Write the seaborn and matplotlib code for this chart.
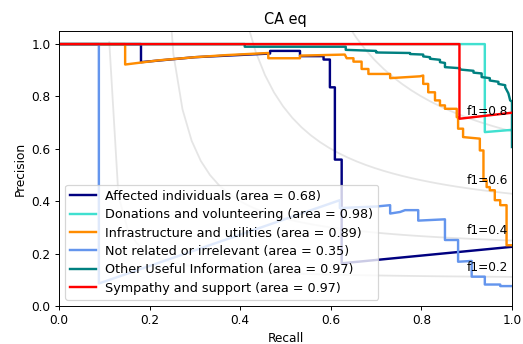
import numpy as np
import pandas as pd
import matplotlib
matplotlib.use("Agg")
import matplotlib.pyplot as plt
import seaborn as sns

# ---------------- data ----------------
title = "CA eq"
class_names = ["Affected individuals", "Donations and volunteering",
               "Infrastructure and utilities", "Not related or irrelevant",
               "Other Useful Information", "Sympathy and support"]
areas = [0.68, 0.98, 0.89, 0.35, 0.97, 0.97]
colors = ["navy", "turquoise", "darkorange", "cornflowerblue", "teal", "red"]

affected_recall = [0.0, 0.181, 0.181, 0.30, 0.466, 0.466, 0.532, 0.532, 0.584, 0.584,
                   0.598, 0.598, 0.609, 0.609, 0.624, 0.624, 1.0]
affected_precision = [1.0, 1.0, 0.931, 0.950, 0.964, 0.974, 0.974, 0.954, 0.954, 0.941,
                      0.941, 0.835, 0.835, 0.559, 0.559, 0.163, 0.226]

donations_recall = [0.0, 0.940, 0.940, 0.996, 1.0]
donations_precision = [1.0, 1.0, 0.664, 0.672, 0.672]

infra_recall = [0.0, 0.146, 0.146, 0.22, 0.30, 0.37, 0.462, 0.462, 0.532, 0.532,
                0.631, 0.635, 0.650, 0.650, 0.668, 0.668, 0.683, 0.683, 0.731, 0.731,
                0.797, 0.804, 0.804, 0.815, 0.815, 0.830, 0.830, 0.841, 0.841, 0.852,
                0.852, 0.878, 0.878, 0.881, 0.881, 0.892, 0.892, 0.929, 0.929, 0.937,
                0.937, 0.944, 0.944, 0.951, 0.951, 0.962, 0.962, 0.974, 0.974, 0.988,
                0.988, 1.0]
infra_precision = [1.0, 1.0, 0.922, 0.938, 0.950, 0.958, 0.966, 0.946, 0.946, 0.956,
                   0.960, 0.946, 0.946, 0.933, 0.933, 0.905, 0.905, 0.886, 0.886, 0.870,
                   0.877, 0.880, 0.848, 0.848, 0.816, 0.816, 0.785, 0.785, 0.766, 0.766,
                   0.753, 0.753, 0.721, 0.721, 0.677, 0.677, 0.645, 0.639, 0.594, 0.594,
                   0.480, 0.480, 0.454, 0.454, 0.442, 0.442, 0.404, 0.404, 0.385, 0.385,
                   0.232, 0.232]

notrel_recall = [0.0, 0.088, 0.088, 0.620, 0.620, 0.701, 0.731, 0.731, 0.753, 0.764,
                 0.793, 0.793, 0.852, 0.852, 0.881, 0.881, 0.911, 0.911, 0.940, 0.940,
                 0.974, 0.974, 1.0]
notrel_precision = [1.0, 1.0, 0.086, 0.404, 0.374, 0.380, 0.385, 0.353, 0.359, 0.366,
                    0.366, 0.326, 0.331, 0.252, 0.252, 0.169, 0.172, 0.112, 0.112, 0.082,
                    0.082, 0.076, 0.076]

other_recall = [0.0, 0.41, 0.41, 0.633, 0.633, 0.70, 0.70, 0.775, 0.775, 0.804, 0.804,
                0.819, 0.819, 0.841, 0.841, 0.852, 0.852, 0.885, 0.885, 0.915, 0.915,
                0.933, 0.933, 0.951, 0.951, 0.970, 0.970, 0.985, 0.985, 0.992, 0.996,
                1.0, 1.0]
other_precision = [1.0, 1.0, 0.990, 0.990, 0.978, 0.974, 0.968, 0.966, 0.962, 0.960,
                   0.953, 0.950, 0.944, 0.940, 0.931, 0.928, 0.912, 0.908, 0.903, 0.898,
                   0.891, 0.888, 0.874, 0.870, 0.861, 0.856, 0.848, 0.843, 0.835, 0.812,
                   0.785, 0.780, 0.607]

sympathy_recall = [0.0, 0.884, 0.884, 1.0]
sympathy_precision = [1.0, 1.0, 0.715, 0.738]

curves_recall = [affected_recall, donations_recall, infra_recall,
                 notrel_recall, other_recall, sympathy_recall]
curves_precision = [affected_precision, donations_precision, infra_precision,
                    notrel_precision, other_precision, sympathy_precision]

f_scores = [0.2, 0.4, 0.6, 0.8]
x_ticks = [0.0, 0.2, 0.4, 0.6, 0.8, 1.0]
y_ticks = [0.0, 0.2, 0.4, 0.6, 0.8, 1.0]

# ---------------- figure ----------------
DPI = 87
fig = plt.figure(figsize=(523 / DPI, 344 / DPI), dpi=DPI)
ax = fig.add_axes([59 / 523, 1 - 306 / 344, (512 - 59) / 523, (306 - 31) / 344])

# iso-f1 reference curves
for f in f_scores:
    xs = np.linspace(0.01, 1)
    ys = f * xs / (2 * xs - f)
    keep = ys >= 0
    sns.lineplot(x=xs[keep], y=ys[keep], color="gray", alpha=0.2, ax=ax,
                 sort=False, estimator=None, legend=False, linewidth=1.5)
    ax.annotate("f1={0:0.1f}".format(f), xy=(0.9, ys[45] + 0.02), fontsize=10)

for rec, prec, col, name, area in zip(curves_recall, curves_precision, colors,
                                      class_names, areas):
    df = pd.DataFrame({"Recall": rec, "Precision": prec})
    sns.lineplot(data=df, x="Recall", y="Precision", color=col, lw=2, ax=ax,
                 sort=False, estimator=None,
                 label="{0} (area = {1:0.2f})".format(name, area))

ax.set_xlim(0.0, 1.0)
ax.set_ylim(0.0, 1.05)
ax.set_xticks(x_ticks)
ax.set_yticks(y_ticks)
ax.set_xlabel("Recall")
ax.set_ylabel("Precision")
ax.set_title(title)
ax.legend(loc="lower left", fontsize=10.5, labelspacing=0.42,
          handletextpad=0.75)

fig.savefig("out.png", dpi=DPI)
